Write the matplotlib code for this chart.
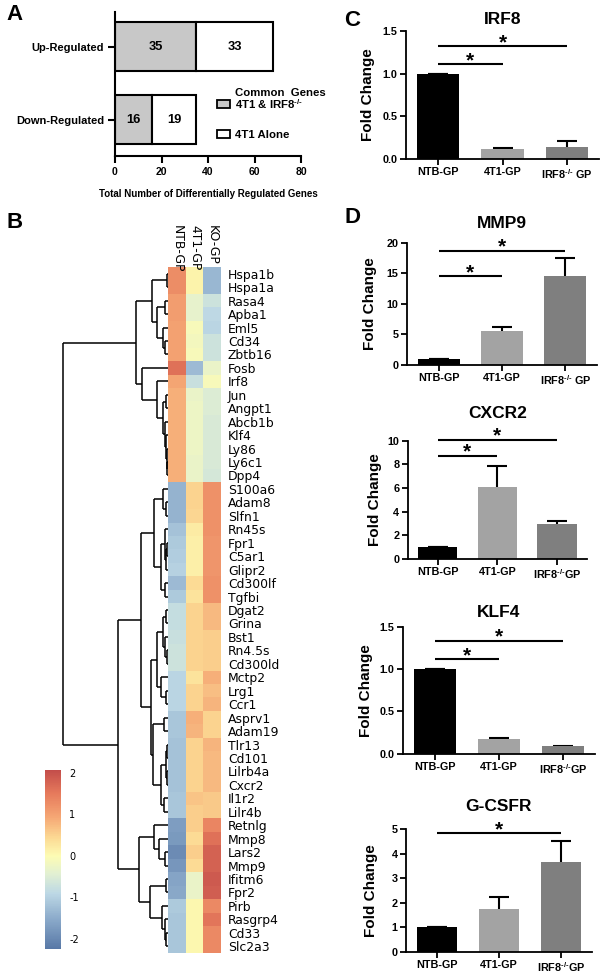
import matplotlib
matplotlib.use('Agg')
import matplotlib.pyplot as plt
import numpy as np
from matplotlib.colors import LinearSegmentedColormap
from matplotlib.patches import Rectangle
from matplotlib.transforms import blended_transform_factory

plt.rcParams['font.family'] = ['Liberation Sans', 'DejaVu Sans']
plt.rcParams['axes.unicode_minus'] = False
plt.rcParams['mathtext.fontset'] = 'custom'
plt.rcParams['mathtext.rm'] = 'Liberation Sans:bold'
plt.rcParams['mathtext.bf'] = 'Liberation Sans:bold'
plt.rcParams['mathtext.it'] = 'Liberation Sans:bold'

# ---------------- data ----------------
# Panel A
a_cats = ['Down-Regulated', 'Up-Regulated']
a_common = [16, 35]
a_alone = [19, 33]

# Panel B heatmap
samples = ['NTB-GP', '4T1-GP', 'KO-GP']
genes = ['Hspa1b', 'Hspa1a', 'Rasa4', 'Apba1', 'Eml5', 'Cd34', 'Zbtb16', 'Fosb', 'Irf8', 'Jun',
         'Angpt1', 'Abcb1b', 'Klf4', 'Ly86', 'Ly6c1', 'Dpp4', 'S100a6', 'Adam8', 'Slfn1', 'Rn45s',
         'Fpr1', 'C5ar1', 'Glipr2', 'Cd300lf', 'Tgfbi', 'Dgat2', 'Grina', 'Bst1', 'Rn4.5s', 'Cd300ld',
         'Mctp2', 'Lrg1', 'Ccr1', 'Asprv1', 'Adam19', 'Tlr13', 'Cd101', 'Lilrb4a', 'Cxcr2', 'Il1r2',
         'Lilr4b', 'Retnlg', 'Mmp8', 'Lars2', 'Mmp9', 'Ifitm6', 'Fpr2', 'Pirb', 'Rasgrp4', 'Cd33',
         'Slc2a3']
ntb = [1.25, 1.25, 1.05, 1.05, 1.0, 1.0, 1.0, 1.6, 0.95, 0.85,
       0.85, 0.85, 0.85, 0.85, 0.85, 0.85, -1.4, -1.4, -1.4, -1.2,
       -1.1, -1.05, -1.0, -1.3, -1.1, -0.8, -0.8, -0.75, -0.7, -0.7,
       -0.95, -0.95, -0.95, -1.15, -1.15, -1.2, -1.2, -1.2, -1.2, -1.15,
       -1.15, -1.7, -1.75, -1.95, -1.8, -1.6, -1.55, -1.1, -1.15, -1.15,
       -1.15]
t41 = [0.1, 0.1, -0.35, -0.35, -0.1, -0.15, -0.1, -1.3, -0.75, -0.3,
       -0.25, -0.25, -0.25, -0.25, -0.3, -0.3, 0.5, 0.5, 0.45, 0.2,
       0.15, 0.15, 0.15, 0.4, 0.3, 0.5, 0.5, 0.5, 0.5, 0.5,
       0.3, 0.5, 0.5, 0.85, 0.8, 0.5, 0.5, 0.5, 0.5, 0.65,
       0.55, 0.55, 0.4, 0.55, 0.4, -0.3, -0.3, 0.05, 0.05, 0.05,
       0.05]
ko = [-1.35, -1.35, -0.7, -0.9, -0.95, -0.7, -0.7, -0.3, -0.1, -0.5,
      -0.5, -0.55, -0.55, -0.55, -0.55, -0.6, 1.2, 1.2, 1.2, 1.2,
      1.15, 1.15, 1.15, 1.2, 1.2, 0.75, 0.75, 0.55, 0.55, 0.55,
      0.85, 0.7, 0.8, 0.5, 0.5, 0.8, 0.75, 0.75, 0.75, 0.6,
      0.6, 1.35, 1.6, 1.8, 1.8, 1.9, 1.85, 1.3, 1.55, 1.3,
      1.3]

# Row dendrogram: (left, right, merge height)
A1 = (('Hspa1b', 'Hspa1a', 1.3),
      (('Rasa4', 'Apba1', 3), ('Eml5', ('Cd34', 'Zbtb16', 3), 5), 10.7), 16.3)
JD = (('Jun', 'Angpt1', 2), ('Abcb1b', ('Klf4', ('Ly86', ('Ly6c1', 'Dpp4', 1), 1.5), 2), 3), 4.7)
A2 = ('Fosb', ('Irf8', JD, 11.3), 26)
TOP = (A1, A2, 32)
B1 = (('S100a6', ('Adam8', 'Slfn1', 2), 4.7),
      (('Rn45s', (('Fpr1', 'C5ar1', 1.5), 'Glipr2', 2.5), 3.5), ('Cd300lf', 'Tgfbi', 3), 7), 13.7)
B2a = ((('Dgat2', 'Grina', 2.5), ('Bst1', ('Rn4.5s', 'Cd300ld', 1.5), 3), 5.5),
       ('Mctp2', ('Lrg1', 'Ccr1', 2), 7), 11.3)
B2b = (('Asprv1', 'Adam19', 3.7),
       ((('Tlr13', 'Cd101', 1), ('Lilrb4a', 'Cxcr2', 1), 2), ('Il1r2', 'Lilr4b', 4), 7), 14.7)
BU = (B1, (B2a, B2b, 17), 27)
BL = (('Retnlg', ('Mmp8', ('Lars2', 'Mmp9', 3), 8.7), 14),
      (('Ifitm6', 'Fpr2', 2), ('Pirb', ('Rasgrp4', ('Cd33', 'Slc2a3', 2), 3), 6.3), 18), 28.7)
TREE = (TOP, (BU, BL, 50), 105)

# Panels C/D
groups_a = ['NTB-GP', '4T1-GP', r'IRF8$^{\text{-/-}}$ GP']
groups_b = ['NTB-GP', '4T1-GP', r'IRF8$^{\text{-/-}}$GP']
irf8 = [1.0, 0.11, 0.14];   irf8_err = [0, 0.01, 0.07]
mmp9 = [1.0, 5.5, 14.5];    mmp9_err = [0, 0.7, 3.0]
cxcr2 = [1.0, 6.1, 2.95];   cxcr2_err = [0, 1.8, 0.25]
klf4 = [1.0, 0.17, 0.085];  klf4_err = [0, 0.012, 0.006]
gcsfr = [1.0, 1.75, 3.65];  gcsfr_err = [0, 0.47, 0.88]
irf8_sig = [(0, 1, 1.11), (0, 2, 1.32)]
mmp9_sig = [(0, 1, 14.55), (0, 2, 18.7)]
cxcr2_sig = [(0, 1, 8.73), (0, 2, 10.1)]
klf4_sig = [(0, 1, 1.12), (0, 2, 1.34)]
gcsfr_sig = [(0, 2, 4.82)]

# ---------------- figure ----------------
W, H = 604, 974
fig = plt.figure(figsize=(W / 100, H / 100), dpi=100)


def px_axes(l, t, r, b):
    return fig.add_axes([l / W, 1 - b / H, (r - l) / W, (b - t) / H])


def fig_text(x, y, s, **kw):
    fig.text(x / W, 1 - y / H, s, **kw)


# panel letters
for lab, x, y in [('A', 6, 15), ('B', 6, 222), ('C', 344, 20), ('D', 344, 218)]:
    fig_text(x, y, lab, fontsize=16, fontweight='bold', va='center', ha='left')

# ---------- Panel A ----------
axA = px_axes(115, 11.7, 301, 155.7)
posA = np.arange(len(a_cats))
axA.barh(posA, a_common, height=0.67, color='#C8C8C8', edgecolor='black', linewidth=1.5)
axA.barh(posA, a_alone, left=a_common, height=0.67, color='white', edgecolor='black', linewidth=1.5)
for p, c, a in zip(posA, a_common, a_alone):
    axA.text(c / 2, p, str(c), ha='center', va='center', fontsize=9.3, fontweight='bold')
    axA.text(c + a / 2, p, str(a), ha='center', va='center', fontsize=9.3, fontweight='bold')
axA.set_xlim(0, 80)
axA.set_ylim(-0.49, 1.48)
axA.set_xticks([0, 20, 40, 60, 80])
axA.set_yticks(posA)
axA.set_yticklabels(a_cats)
for s in ['top', 'right']:
    axA.spines[s].set_visible(False)
for s in ['left', 'bottom']:
    axA.spines[s].set_linewidth(1.5)
axA.tick_params(width=1.5, length=5, labelsize=7.5, pad=3)
axA.tick_params(axis='y', labelsize=8)
for t in axA.get_xticklabels() + axA.get_yticklabels():
    t.set_fontweight('bold')
axA.set_xlabel('Total Number of Differentially Regulated Genes', fontsize=7, fontweight='bold', labelpad=9)

# legend (manual)
fig.add_artist(Rectangle((217 / W, 1 - 108.3 / H), 13 / W, 8.3 / H, transform=fig.transFigure,
                         facecolor='#C8C8C8', edgecolor='black', linewidth=1.3))
fig.add_artist(Rectangle((217 / W, 1 - 138.3 / H), 13 / W, 8.3 / H, transform=fig.transFigure,
                         facecolor='white', edgecolor='black', linewidth=1.3))
fig_text(235, 93, 'Common  Genes', fontsize=8.2, fontweight='bold', va='center')
fig_text(235, 104, r'4T1 & IRF8$^{\text{-/-}}$', fontsize=8.2, fontweight='bold', va='center')
fig_text(235, 135, '4T1 Alone', fontsize=8.2, fontweight='bold', va='center')

# ---------- Panel B heatmap ----------
cmap = LinearSegmentedColormap.from_list('hm', [
    (0.00, '#5878A6'), (0.17, '#8CABCB'), (0.31, '#BDD8E5'), (0.42, '#E2F0D2'),
    (0.52, '#FDFCB4'), (0.62, '#FCDA94'), (0.74, '#F5A674'), (0.87, '#E67A5C'),
    (1.00, '#C34D4A')])
M = np.column_stack([ntb, t41, ko])
assert M.shape == (len(genes), 3)
axH = px_axes(168, 267, 221, 953)
im = axH.imshow(M, cmap=cmap, vmin=-2.25, vmax=2.07, aspect='auto', interpolation='nearest')
axH.set_xticks([])
axH.yaxis.tick_right()
axH.set_yticks(np.arange(len(genes)))
axH.set_yticklabels(genes, fontsize=8.9, family='DejaVu Sans')
axH.tick_params(axis='y', length=0, pad=5)
for s in axH.spines.values():
    s.set_visible(False)
btr = blended_transform_factory(axH.transData, axH.transAxes)
for j, lab in enumerate(samples):
    axH.text(j, 1 + (267 - 225) / 686, lab, transform=btr, rotation=-90, ha='center', va='top',
             fontsize=8.9, family='DejaVu Sans')

# dendrogram
axD = px_axes(58, 267, 168, 953)
axD.set_ylim(len(genes) - 0.5, -0.5)
axD.set_xlim(110, 0)
axD.axis('off')
gidx = {g: i for i, g in enumerate(genes)}


def draw(node):
    if isinstance(node, str):
        return gidx[node], 0.0
    l, r, h = node
    yl, hl = draw(l)
    yr, hr = draw(r)
    kw = dict(color='black', lw=1.1, solid_capstyle='butt')
    axD.plot([h, h], [yl, yr], **kw)
    axD.plot([hl, h], [yl, yl], **kw)
    axD.plot([hr, h], [yr, yr], **kw)
    return (yl + yr) / 2, h


draw(TREE)

# colorbar
cax = px_axes(45, 770, 61, 949)
cb = fig.colorbar(im, cax=cax, ticks=[-2, -1, 0, 1, 2])
cb.outline.set_visible(False)
cax.tick_params(length=0, labelsize=7, pad=6)
for t in cax.get_yticklabels():
    t.set_family('DejaVu Sans')

# ---------- Panels C / D ----------
bar_colors = ['#000000', '#A3A3A3', '#7F7F7F']


def bar_panel(rect, title, title_y, vals, errs, ylim, yticks, yfmt, sigs, labels, ylab_x):
    l, t, r, b = rect
    ax = px_axes(l, t, r, b)
    x = np.arange(len(vals))
    ax.errorbar(x, vals, yerr=errs, fmt='none', ecolor='black', elinewidth=1.5,
                capsize=7.5, capthick=1.5, zorder=1)
    ax.bar(x, vals, width=0.66, color=bar_colors, zorder=2)
    ax.set_xlim(-0.5, 2.5)
    ax.set_ylim(*ylim)
    ax.set_yticks(yticks)
    ax.set_yticklabels([yfmt.format(v) for v in yticks])
    ax.set_xticks(x)
    ax.set_xticklabels(labels)
    for s in ['top', 'right']:
        ax.spines[s].set_visible(False)
    for s in ['left', 'bottom']:
        ax.spines[s].set_linewidth(1.3)
    ax.tick_params(width=1.3, length=4, labelsize=7.8, pad=2)
    for tl in ax.get_xticklabels() + ax.get_yticklabels():
        tl.set_fontweight('bold')
    ax.set_ylabel('Fold Change', fontsize=11, fontweight='bold')
    ax.yaxis.set_label_coords((ylab_x - l) / (r - l), 0.5)
    ax.text(0.5, 1 + (t - title_y) / (b - t), title, transform=ax.transAxes, ha='center',
            va='center', fontsize=12.5, fontweight='bold')
    for i, j, y in sigs:
        ax.plot([x[i], x[j]], [y, y], color='black', lw=1.5, clip_on=False, solid_capstyle='butt')
        ax.annotate('*', xy=((x[i] + x[j]) / 2, y), xytext=(0, -1.5), textcoords='offset points',
                    ha='center', va='baseline', fontsize=15, fontweight='bold', annotation_clip=False)
    return ax


bar_panel((406, 31, 599, 158.7), 'IRF8', 19, irf8, irf8_err, (0, 1.5), [0, 0.5, 1.0, 1.5],
          '{:.1f}', irf8_sig, groups_a, 375)
bar_panel((407, 242.7, 597, 365), 'MMP9', 223, mmp9, mmp9_err, (0, 20), [0, 5, 10, 15, 20],
          '{:d}', mmp9_sig, groups_a, 377)
bar_panel((407.7, 440.7, 587, 559), 'CXCR2', 413, cxcr2, cxcr2_err, (0, 10), [0, 2, 4, 6, 8, 10],
          '{:d}', cxcr2_sig, groups_b, 382)
bar_panel((402.7, 627.3, 595, 753.5), 'KLF4', 612.7, klf4, klf4_err, (0, 1.5), [0, 0.5, 1.0, 1.5],
          '{:.1f}', klf4_sig, groups_b, 373)
bar_panel((406, 829, 592, 951.7), 'G-CSFR', 806.7, gcsfr, gcsfr_err, (0, 5), [0, 1, 2, 3, 4, 5],
          '{:d}', gcsfr_sig, groups_b, 378)

fig.savefig('out.png', dpi=100)
